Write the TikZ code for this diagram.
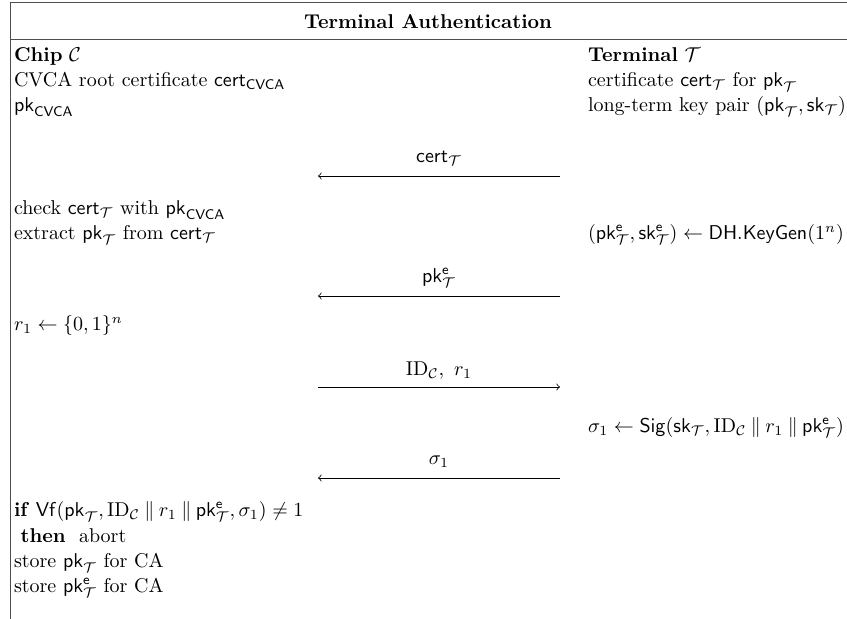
\documentclass[tikz,border=0pt]{standalone}
\usepackage{amsmath,amssymb}
\usetikzlibrary{calc}
\newcommand{\pT}{\mathsf{pk}_{\mathcal{T}}}
\newcommand{\pTe}{\mathsf{pk}^{\mathsf{e}}_{\mathcal{T}}}
\newcommand{\sT}{\mathsf{sk}_{\mathcal{T}}}
\newcommand{\sTe}{\mathsf{sk}^{\mathsf{e}}_{\mathcal{T}}}
\newcommand{\cT}{\mathsf{cert}_{\mathcal{T}}}
\newcommand{\IDC}{\mathrm{ID}_{\mathcal{C}}}
\begin{document}
\begin{tikzpicture}[x=0.5pt,y=-0.5pt,
  txt/.style={anchor=base west,inner sep=0pt,outer sep=0pt},
  lab/.style={anchor=base,inner sep=0pt,outer sep=0pt},
  frame/.style={draw=black!70,line width=0.5pt},
  msg/.style={draw=black,line width=0.4pt,->}]
\useasboundingbox (0,0) rectangle (847,619);
% frame
\coordinate (tl) at (10,3);
\coordinate (tr) at (847,3);
\coordinate (hl) at (10,40);
\coordinate (hr) at (847,40);
\coordinate (bl) at (10,619);
\draw[frame] (tr) -- (tl) -- (bl);
\draw[frame] (hl) -- (hr);
\node[lab] (title) at (428,29) {\textbf{Terminal Authentication}};
% left column
\def\xL{14}
\def\xR{588}
\node[txt] (chip) at (\xL,62) {\textbf{Chip} $\mathcal{C}$};
\node[txt] (l1) at (\xL,87) {CVCA root certificate $\mathsf{cert}_{\mathsf{CVCA}}$};
\node[txt] (l2) at (\xL,112) {$\mathsf{pk}_{\mathsf{CVCA}}$};
\node[txt] (l3) at (\xL,215) {check $\cT$ with $\mathsf{pk}_{\mathsf{CVCA}}$};
\node[txt] (l4) at (\xL,240) {extract $\pT$ from $\cT$};
\node[txt] (l5) at (\xL,331) {$r_1 \leftarrow \{0,1\}^n$};
\node[txt] (l6) at (\xL,517) {\textbf{if} $\mathsf{Vf}(\pT, \IDC \mathbin\| r_1 \mathbin\| \pTe, \sigma_1) \neq 1$};
\node[txt] (l7) at (\xL,543) {\ \textbf{then}\ \ abort};
\node[txt] (l8) at (\xL,568) {store $\pT$ for CA};
\node[txt] (l9) at (\xL,593) {store $\pTe$ for CA};
% right column
\node[txt] (term) at (\xR,62) {\textbf{Terminal} $\mathcal{T}$};
\node[txt] (r1) at (\xR,87) {certificate $\cT$ for $\pT$};
\node[txt] (r2) at (\xR,112) {long-term key pair $(\pT, \sT)$};
\node[txt] (r3) at (\xR,240) {$(\pTe, \sTe) \leftarrow \mathsf{DH.KeyGen}(1^n)$};
\node[txt] (r4) at (\xR,433) {$\sigma_1 \leftarrow \mathsf{Sig}(\sT, \IDC \mathbin\| r_1 \mathbin\| \pTe)$};
% messages
\coordinate (m1l) at (318,176); \coordinate (m1r) at (560,176);
\coordinate (m2l) at (318,296); \coordinate (m2r) at (560,296);
\coordinate (m3l) at (318,387); \coordinate (m3r) at (560,387);
\coordinate (m4l) at (318,478); \coordinate (m4r) at (560,478);
\draw[msg] (m1r) -- (m1l);
\draw[msg] (m2r) -- (m2l);
\draw[msg] (m3l) -- (m3r);
\draw[msg] (m4r) -- (m4l);
\node[lab] (t1) at (439,163) {$\cT$};
\node[lab] (t2) at (439,283) {$\pTe$};
\node[lab] (t3) at (439,376) {$\IDC,\ r_1$};
\node[lab] (t4) at (439,465) {$\sigma_1$};
\end{tikzpicture}
\end{document}
